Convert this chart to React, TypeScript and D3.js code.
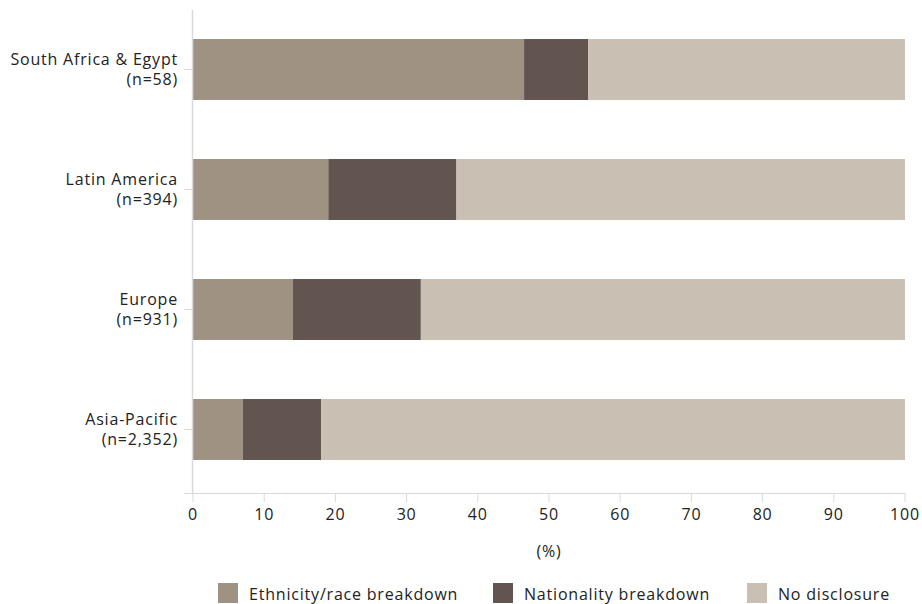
import React, { useEffect, useRef } from "react";
import * as d3 from "d3";

const categories = ["South Africa & Egypt", "Latin America", "Europe", "Asia-Pacific"];
const sampleSizes = ["(n=58)", "(n=394)", "(n=931)", "(n=2,352)"];
const seriesNames = ["Ethnicity/race breakdown", "Nationality breakdown", "No disclosure"];
const ethnicity = [46.5, 19, 14, 7];
const nationality = [9, 18, 18, 11];
const noDisclosure = [44.5, 63, 68, 82];
const xTicks = [0, 10, 20, 30, 40, 50, 60, 70, 80, 90, 100];
const colors = ["#A09282", "#625550", "#C9BFB3"];

const W = 922;
const H = 604;
const FONT = "'Open Sans', sans-serif";
const FS = 16;
const LS = 0.8;

export default function App() {
  const ref = useRef<SVGSVGElement>(null);

  useEffect(() => {
    const svg = d3.select(ref.current);
    svg.selectAll("*").remove();

    const x = d3.scaleLinear().domain([0, 100]).range([193, 905]);
    const y = d3.scaleBand<string>().domain(categories).range([9.5, 489.5]).paddingInner(0.492).paddingOuter(0.246);

    const rows = categories.map((c, i) => ({
      cat: c,
      vals: [ethnicity[i], nationality[i], noDisclosure[i]],
    }));

    const g = svg.append("g");

    rows.forEach((r) => {
      let acc = 0;
      r.vals.forEach((v, j) => {
        g.append("rect")
          .attr("x", x(acc))
          .attr("y", y(r.cat)!)
          .attr("width", x(acc + v) - x(acc))
          .attr("height", y.bandwidth())
          .attr("fill", colors[j]);
        acc += v;
      });
    });

    g.append("line")
      .attr("x1", 192.5).attr("x2", 192.5)
      .attr("y1", 10).attr("y2", 493.5)
      .attr("stroke", "#d9d9d9").attr("stroke-width", 1.5);

    const txt = (sel: any) =>
      sel.attr("font-family", FONT).attr("font-size", FS).attr("letter-spacing", LS).attr("fill", "#222");

    categories.forEach((c, i) => {
      const cy = y(c)! + y.bandwidth() / 2;
      g.append("line")
        .attr("x1", 184).attr("x2", 192)
        .attr("y1", cy).attr("y2", cy)
        .attr("stroke", "#d9d9d9").attr("stroke-width", 1);
      const t = g.append("text").attr("text-anchor", "end").call(txt);
      t.append("tspan").attr("x", 178).attr("y", cy - 4.5).text(c);
      t.append("tspan").attr("x", 178).attr("y", cy + 15.5).text(sampleSizes[i]);
    });

    g.append("line")
      .attr("x1", 184).attr("x2", 905.5)
      .attr("y1", 493.5).attr("y2", 493.5)
      .attr("stroke", "#d9d9d9").attr("stroke-width", 1);
    xTicks.forEach((t) => {
      g.append("line")
        .attr("x1", x(t)).attr("x2", x(t))
        .attr("y1", 493.5).attr("y2", 502)
        .attr("stroke", "#d9d9d9").attr("stroke-width", 1);
      g.append("text")
        .attr("x", x(t)).attr("y", 519.5)
        .attr("text-anchor", "middle")
        .call(txt)
        .text(String(t));
    });

    g.append("text")
      .attr("x", (x(0) + x(100)) / 2).attr("y", 557)
      .attr("text-anchor", "middle")
      .call(txt)
      .text("(%)");

    const legendX = [218, 493, 747];
    seriesNames.forEach((s, j) => {
      g.append("rect")
        .attr("x", legendX[j]).attr("y", 583)
        .attr("width", 20).attr("height", 20)
        .attr("fill", colors[j]);
      g.append("text")
        .attr("x", legendX[j] + 31).attr("y", 599.5)
        .call(txt)
        .text(s);
    });
  }, []);

  return (
    <svg
      ref={ref}
      width={W}
      height={H}
      style={{ position: "absolute", left: 0, top: 0, background: "#fff" }}
    />
  );
}
